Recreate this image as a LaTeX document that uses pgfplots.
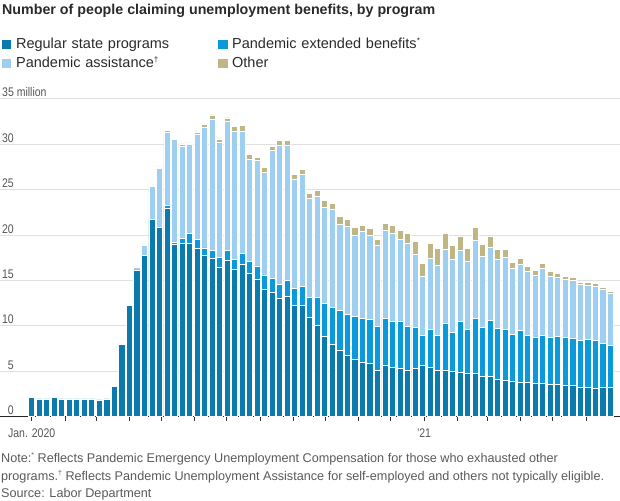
\documentclass[border=0pt]{standalone}
\usepackage{pgfplots}
\pgfplotsset{compat=1.18}
\usepackage{pgfplotstable}
\usepackage{fontspec}
\setmainfont{Liberation Sans}
\newfontfamily\tickfont[FakeStretch=0.84]{Liberation Sans}
\definecolor{cReg}{HTML}{0B7AAD}
\definecolor{cPeuc}{HTML}{0A9ADB}
\definecolor{cPua}{HTML}{9ECFF0}
\definecolor{cOth}{HTML}{C0B684}
\definecolor{gridc}{HTML}{E0E0E0}
\definecolor{txt}{HTML}{2A2A2A}
\definecolor{tickc}{HTML}{555555}
\definecolor{notec}{HTML}{5A5A5A}

\pgfplotstableread{
i R P U O
0 2.09 0 0 0
1 1.95 0 0 0
2 1.95 0 0 0
3 2.09 0 0 0
4 1.95 0 0 0
5 1.95 0 0 0
6 1.95 0 0 0
7 1.95 0 0 0
8 1.95 0 0 0
9 1.84 0 0 0
10 1.95 0 0 0
11 3.30 0 0 0
12 8.00 0 0 0
13 12.30 0 0 0
14 16.16 0 0.24 0
15 17.74 0 1.16 0
16 21.70 0 3.70 0
17 20.80 0 6.50 0.20
18 22.90 0.35 8.11 0.19
19 18.95 0.22 11.33 0.16
20 19.10 0.55 10.10 0.29
21 19.10 1.10 9.77 0.18
22 18.55 0.99 11.53 0.29
23 17.77 0.81 13.30 0.29
24 17.44 0.89 14.46 0.44
25 16.45 1.10 12.64 0.40
26 17.22 1.11 14.17 0.40
27 16.23 1.10 14.07 0.55
28 16.78 1.22 13.40 0.66
29 15.79 1.32 11.24 0.59
30 15.17 1.43 11.60 0.40
31 14.03 1.57 11.32 0.51
32 13.70 1.54 14.06 0.45
33 13.04 1.54 15.32 0.50
34 13.26 1.76 14.88 0.50
35 12.27 1.83 12.05 0.51
36 12.27 2.09 12.34 0.50
37 10.94 2.21 10.90 0.52
38 10.06 3.09 11.12 0.63
39 8.85 3.64 10.57 0.74
40 7.97 4.08 10.79 0.63
41 7.34 4.38 9.47 0.84
42 6.76 4.51 9.70 0.73
43 6.35 4.70 8.93 0.84
44 5.99 4.84 9.59 0.62
45 5.88 4.84 9.26 0.73
46 5.10 4.85 8.89 0.66
47 5.66 5.17 9.70 0.73
48 5.44 5.06 9.70 0.84
49 5.32 5.18 9.04 0.95
50 5.10 4.85 9.15 1.06
51 5.32 4.52 8.04 1.47
52 5.66 3.30 6.50 1.40
53 5.44 4.18 7.82 1.62
54 5.10 3.86 7.71 1.84
55 5.10 5.18 8.16 1.72
56 4.99 4.30 8.04 1.51
57 4.88 5.62 7.83 1.50
58 4.77 4.85 7.49 1.40
59 4.77 6.06 8.60 1.39
60 4.44 5.40 7.82 1.29
61 4.44 6.17 8.05 1.17
62 4.11 5.62 7.60 1.07
63 4.00 5.62 7.93 0.85
64 3.89 5.18 7.27 0.63
65 3.78 5.73 7.27 0.63
66 3.78 5.18 7.05 0.52
67 3.67 5.07 6.83 0.51
68 3.67 5.29 7.38 0.52
69 3.56 5.18 6.72 0.52
70 3.56 5.29 6.50 0.40
71 3.45 5.29 6.39 0.29
72 3.45 5.18 6.39 0.29
73 3.23 5.18 6.17 0.22
74 3.23 5.29 5.95 0.33
75 3.12 5.29 5.95 0.33
76 3.23 4.85 5.95 0.22
77 3.23 4.63 5.73 0.22
}\datatable

\begin{document}
\begin{tikzpicture}
\useasboundingbox (0,0) rectangle (620pt,500pt);
\node[anchor=base west, inner sep=0pt, text=txt, font=\fontsize{14.25pt}{17pt}\selectfont\bfseries] at (2pt,485.5pt) {Number of people claiming unemployment benefits, by program};
\begin{axis}[
  at={(0pt,83.3pt)}, anchor=south west,
  scale only axis, width=620pt, height=317.8pt,
  xmin=-4.218, xmax=78.27, ymin=0, ymax=35,
  ybar stacked, bar width=6.1pt,
  axis line style={draw=none},
  clip=false,
  ytick={0,5,10,15,20,25,30,35}, yticklabels={}, ytick style={draw=none},
  ymajorgrids, grid style={gridc, line width=0.9pt},
  xtick={0,4.42,8.56,12.98,17.26,21.68,25.96,30.38,34.8,39.07,43.49,47.77,52.2,56.62,60.61,65.04,69.32,73.74},
  xticklabels={Jan. 2020,,,,,,,,,,,,’21,,,,,},
  xtick pos=left, tick align=outside, major tick length=4pt,
  xtick style={black!80, line width=0.8pt},
  xticklabel style={font=\tickfont\fontsize{12.5pt}{14pt}\selectfont, text=tickc, anchor=base, inner sep=0pt, yshift=-16.3pt},
  legend columns=2,
  legend style={at={(0.0032,1.1885)}, anchor=north west, draw=none, fill=none, inner sep=0pt, outer sep=0pt,
    row sep=6pt, font=\fontsize{14.5pt}{17pt}\selectfont, text=txt,
    cells={anchor=base west},
    nodes={inner sep=0pt, text height=10pt, text depth=3pt, text width=202pt, align=left},
    /tikz/every odd column/.style={column sep=4.6pt},
    /tikz/every even column/.style={column sep=0pt}},
  legend image code/.code={\fill[#1, draw=none] (0pt,0pt) rectangle (9.5pt,9.2pt);},
]
\addplot[fill=cReg, draw=white, line width=0.8pt] table[x=i, y=R] {\datatable};
\addplot[fill=cPeuc, draw=white, line width=0.8pt] table[x=i, y=P] {\datatable};
\addplot[fill=cPua, draw=white, line width=0.8pt] table[x=i, y=U] {\datatable};
\addplot[fill=cOth, draw=white, line width=0.8pt] table[x=i, y=O] {\datatable};
\legend{Regular state programs, Pandemic extended benefits{\fontsize{8pt}{8pt}\selectfont\raisebox{5pt}{*}}, Pandemic assistance{\fontsize{8pt}{8pt}\selectfont\raisebox{5pt}{†}}, Other}
\draw[black!85, line width=1pt] (axis cs:-4.218,0) -- (axis cs:78.27,0);
\node[anchor=base west, inner sep=0pt, xshift=2pt, yshift=2pt, text=tickc, font=\tickfont\fontsize{12.5pt}{14pt}\selectfont] at (axis cs:-4.218,35) {35 million};
\pgfplotsinvokeforeach{30,25,20,15,10,5,0}{
  \node[anchor=base east, inner sep=0pt, xshift=14pt, yshift=2pt, text=tickc, font=\tickfont\fontsize{12.5pt}{14pt}\selectfont] at (axis cs:-4.218,#1) {#1};
}
\end{axis}
\begin{scope}[every node/.style={anchor=base west, inner sep=0pt, text=notec, font=\fontsize{12.65pt}{15pt}\selectfont}]
\node at (1pt,37.5pt) {Note:{\fontsize{7pt}{7pt}\selectfont\raisebox{5pt}{*}} Reflects Pandemic Emergency Unemployment Compensation for those who exhausted other};
\node at (1pt,20pt) {programs.{\fontsize{7pt}{7pt}\selectfont\raisebox{5pt}{†}} Reflects Pandemic Unemployment Assistance for self-employed and others not typically eligible.};
\node at (1pt,3pt) {Source: Labor Department};
\end{scope}
\end{tikzpicture}
\end{document}
